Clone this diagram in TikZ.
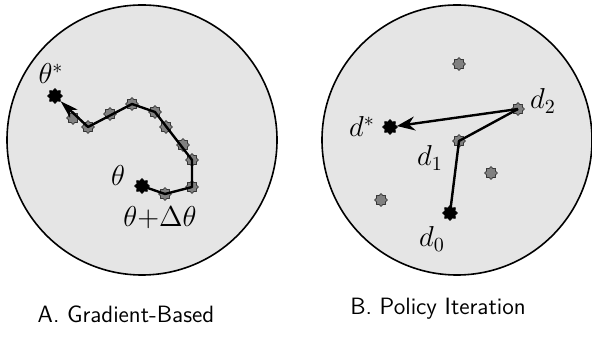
\documentclass[tikz,border=0pt]{standalone}
\usetikzlibrary{shapes.geometric,arrows.meta}

\begin{document}
\begin{tikzpicture}[x=0.5pt,y=-0.5pt]

\def\rad{67.5pt}

\tikzstyle{space}=[draw,fill=gray!20,line width=0.8pt]
\tikzstyle{iterate}=[star,star points=8,star point ratio=1.35,draw=black!80,fill=gray,minimum size=6.5pt,inner sep=0pt,line width=0.3pt]
\tikzstyle{final}=[iterate,draw=black,fill=black,minimum size=7.5pt]
\tikzstyle{move}=[line width=1.2pt,line join=round]
\tikzstyle{lbl}=[font=\fontsize{14.4}{17}\selectfont,inner sep=0pt]
\tikzstyle{caption}=[font=\sffamily\fontsize{11.8}{14}\selectfont,inner sep=0pt]

\useasboundingbox (0,0) rectangle (592,340);

%spaces
\draw[space] (142,140) circle (\rad);
\draw[space] (457,140) circle (\rad);

%gradient steps
\node[final] (t0) at (142,186) {};
\node[iterate] (t1) at (165,194) {};
\node[iterate] (t2) at (192,187) {};
\node[iterate] (t3) at (192,160) {};
\node[iterate] (t4) at (183,145) {};
\node[iterate] (t5) at (166,127) {};
\node[iterate] (t6) at (155,112) {};
\node[iterate] (t7) at (132,104) {};
\node[iterate] (t8) at (110,114) {};
\node[iterate] (t9) at (88,127) {};
\node[iterate] (t10) at (73,118) {};
\node[final] (tstar) at (55,96) {};

\draw[move,-{Stealth[length=9pt,width=5.5pt,inset=2.5pt]}] (t0.center) -- (t1.center) -- (t2.center) -- (t3.center) -- (t6.center) -- (t7.center) -- (t9.center) -- (tstar);

\node[lbl] (thetastar) at (51,74) {$\theta^*$};
\node[lbl] (theta) at (118,176) {$\theta$};
\node[lbl] (thetanext) at (160,218) {$\theta{+}\Delta\theta$};

%policies
\node[iterate] (p1) at (459,64) {};
\node[iterate] (p2) at (491,173) {};
\node[iterate] (p3) at (381,200) {};
\node[final] (d0) at (450,213) {};
\node[iterate] (d1) at (459,141) {};
\node[iterate] (d2) at (518,109) {};
\node[final] (dstar) at (390,127) {};

\draw[move] (d0.center) -- (d1.center) -- (d2.center);
\draw[move,-{Stealth[length=9pt,width=7pt,inset=3pt]}] (d2.center) -- (dstar);

\node[lbl] (d2lbl) at (543,101) {$d_2$};
\node[lbl] (dstarlbl) at (362,127) {$d^*$};
\node[lbl] (d1lbl) at (430,158) {$d_1$};
\node[lbl] (d0lbl) at (432,239) {$d_0$};

%captions
\node[caption] (capa) at (126,314) {A. Gradient-Based};
\node[caption] (capb) at (438,309) {B. Policy Iteration};

\end{tikzpicture}
\end{document}
